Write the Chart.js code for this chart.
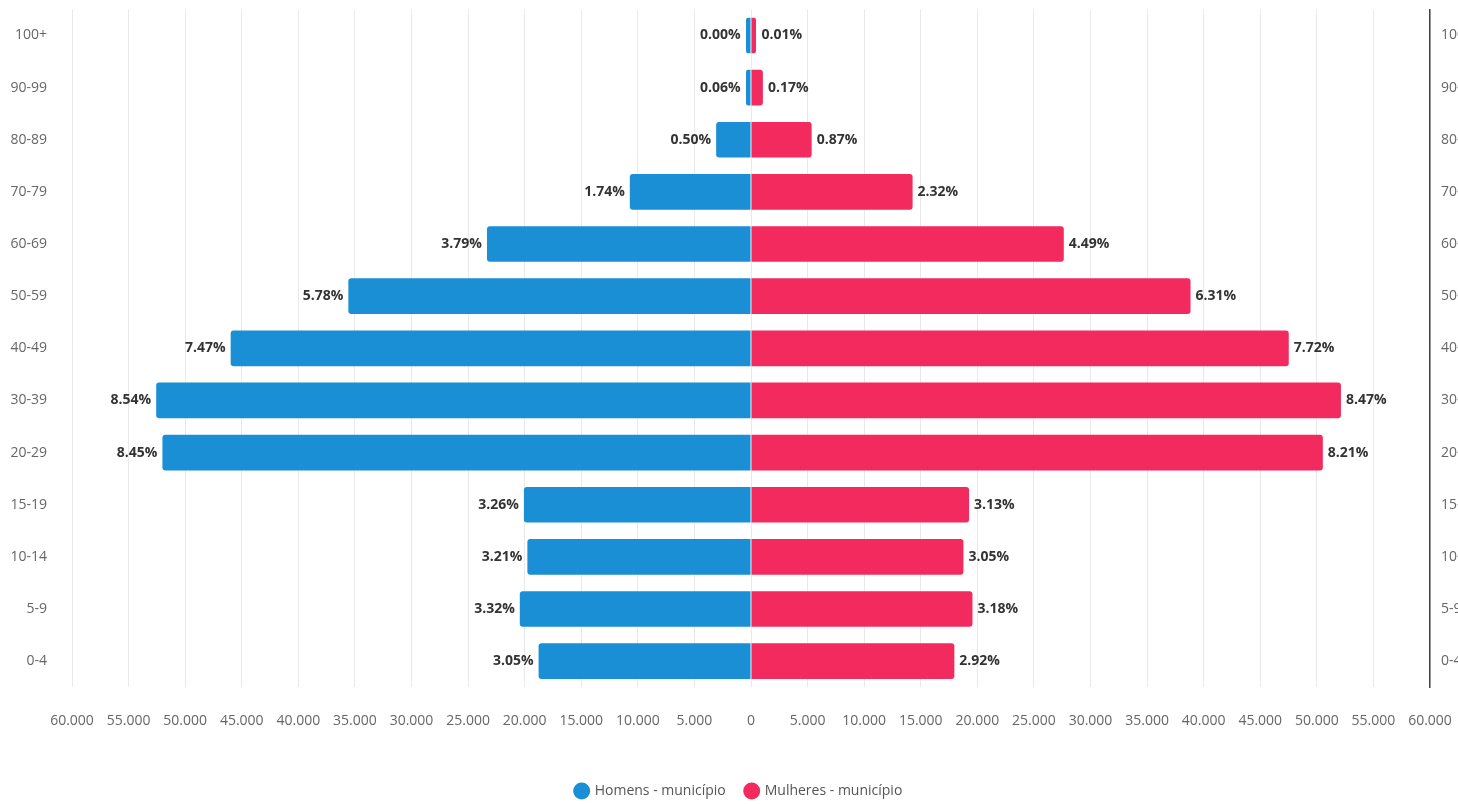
<!DOCTYPE html>
<html>
<head>
<meta charset="utf-8">
<script src="https://cdn.jsdelivr.net/npm/chart.js@4.4.1/dist/chart.umd.min.js"></script>
<style>
  html, body { margin: 0; padding: 0; background: #fff; overflow: hidden; }
  #wrap { position: absolute; left: 0; top: -16px; width: 1478px; height: 826px; }
</style>
</head>
<body>
<div id="wrap"><canvas id="pyramid" width="1478" height="826"></canvas></div>
<script>
// age groups, top to bottom
const ageGroups = ["100+", "90-99", "80-89", "70-79", "60-69", "50-59", "40-49", "30-39", "20-29", "15-19", "10-14", "5-9", "0-4"];

// population counts
const men = [20, 370, 3080, 10710, 23330, 35580, 45980, 52560, 52010, 20070, 19760, 20430, 18770];
const women = [60, 1050, 5360, 14280, 27640, 38840, 47520, 52130, 50530, 19270, 18770, 19570, 17970];

// percentage labels shown at the bar ends
const menPct = ["0.00%", "0.06%", "0.50%", "1.74%", "3.79%", "5.78%", "7.47%", "8.54%", "8.45%", "3.26%", "3.21%", "3.32%", "3.05%"];
const womenPct = ["0.01%", "0.17%", "0.87%", "2.32%", "4.49%", "6.31%", "7.72%", "8.47%", "8.21%", "3.13%", "3.05%", "3.18%", "2.92%"];

function fmt(n) {
  return String(Math.abs(n)).replace(/\B(?=(\d{3})+(?!\d))/g, ".");
}

// draw the % text next to each bar end
const pctLabels = {
  id: "pctLabels",
  afterDatasetsDraw(chart) {
    const ctx = chart.ctx;
    ctx.save();
    ctx.font = "bold 14px 'Open Sans'";
    ctx.fillStyle = "#333";
    ctx.textBaseline = "middle";
    chart.data.datasets.forEach((ds, i) => {
      const meta = chart.getDatasetMeta(i);
      meta.data.forEach((bar, j) => {
        if (i === 0) {
          ctx.textAlign = "right";
          ctx.fillText(menPct[j], Math.min(bar.x, bar.base - 5) - 5, bar.y);
        } else {
          ctx.textAlign = "left";
          ctx.fillText(womenPct[j], Math.max(bar.x, bar.base + 5) + 5, bar.y);
        }
      });
    });
    ctx.restore();
  }
};

const tickFont = { family: "'Open Sans'", size: 14 };

new Chart(document.getElementById("pyramid"), {
  type: "bar",
  data: {
    labels: ageGroups,
    datasets: [{
      label: "Homens - município",
      data: men.map(v => -v),
      backgroundColor: "#1a8fd6",
      borderRadius: 3,
      minBarLength: 5,
      barPercentage: 0.9,
      categoryPercentage: 0.76
    }, {
      label: "Mulheres - município",
      data: women,
      backgroundColor: "#f22a5e",
      borderRadius: 3,
      minBarLength: 5,
      barPercentage: 0.9,
      categoryPercentage: 0.76
    }]
  },
  options: {
    indexAxis: "y",
    responsive: false,
    animation: false,
    layout: { padding: { top: 8, left: 0, right: 0, bottom: 2 } },
    plugins: {
      tooltip: { enabled: false },
      legend: {
        position: "bottom",
        labels: {
          usePointStyle: true,
          pointStyle: "circle",
          boxWidth: 12,
          boxHeight: 12,
          padding: 20,
          color: "#555",
          font: tickFont
        }
      }
    },
    scales: {
      x: {
        stacked: true,
        min: -60000,
        max: 60000,
        afterFit(scale) { scale.height += 10; },
        ticks: {
          stepSize: 5000,
          autoSkip: false,
          maxRotation: 0,
          padding: 25,
          color: "#666",
          font: tickFont,
          callback: v => fmt(v)
        },
        grid: { color: "#e9e9e9", drawTicks: false },
        border: { display: false }
      },
      y: {
        stacked: true,
        afterFit(scale) { scale.width = 72; },
        ticks: { padding: 17, color: "#666", font: tickFont },
        grid: { display: false },
        border: { display: false }
      },
      y2: {
        type: "category",
        position: "right",
        labels: ageGroups,
        offset: true,
        afterFit(scale) { scale.width = 48; },
        ticks: { padding: 11, color: "#666", font: tickFont },
        grid: { display: false, drawTicks: false },
        border: { display: true, color: "#444", width: 1.5 }
      }
    }
  },
  plugins: [pctLabels]
});
</script>
</body>
</html>
